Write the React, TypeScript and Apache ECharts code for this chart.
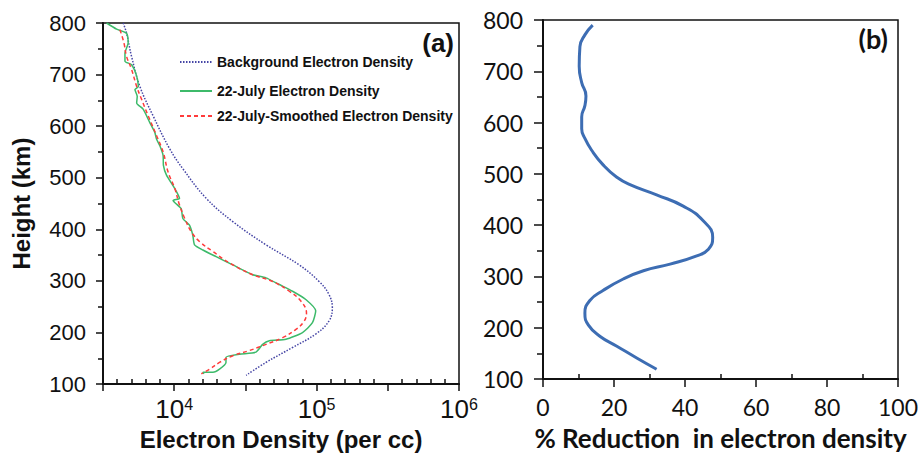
import React, { useEffect, useRef } from 'react';
import * as echarts from 'echarts';

// Panel (a): electron density profiles (per cc) vs height (km)
const bgHeights = [800, 780, 735, 677, 620, 556, 517, 460, 415, 370, 331, 299, 274, 248, 222, 197, 171, 142, 117];
const bgDensity = [4385, 4630, 5020, 5740, 7110, 9300, 11530, 16800, 25800, 44100, 75500, 104000, 122000, 129000, 122000, 98500, 67800, 44100, 32000];

const julyHeights = [800, 788, 780, 761, 742, 726, 719, 697, 677, 671, 658, 645, 633, 607, 588, 575, 562, 543, 524, 505, 479, 460, 456, 440, 421, 408, 389, 370, 360, 347, 331, 312, 306, 293, 280, 264, 242, 219, 200, 187, 184, 177, 162, 158, 152, 142, 129, 123, 123, 120];
const julyDensity = [3350, 3940, 4630, 4750, 4510, 4510, 5020, 5450, 5600, 5300, 5500, 5450, 6050, 6740, 7310, 7510, 7930, 8360, 8400, 8830, 10100, 10900, 9820, 11200, 11500, 12800, 13500, 13900, 15900, 19700, 25800, 35600, 44100, 54700, 67800, 84000, 98600, 93500, 79600, 60900, 46600, 41800, 37500, 28700, 23100, 23100, 20800, 18700, 15900, 16200];

const smoothHeights = [787, 761, 735, 710, 677, 652, 620, 582, 550, 511, 479, 447, 421, 395, 376, 357, 335, 312, 299, 280, 261, 238, 222, 206, 190, 177, 165, 155, 142, 129, 120];
const smoothDensity = [4160, 4440, 4630, 5020, 5450, 5900, 6570, 7510, 8360, 9060, 10100, 10900, 11860, 13200, 15100, 18700, 24400, 35600, 49100, 64300, 77500, 84900, 81800, 71600, 57800, 44100, 33700, 25800, 20800, 17700, 15500];

// Panel (b): % reduction vs height (km)
const redHeights = [790, 771, 748, 710, 678, 652, 633, 611, 588, 569, 546, 517, 494, 479, 459, 437, 408, 376, 353, 340, 324, 311, 295, 273, 253, 228, 205, 183, 164, 141, 119];
const reduction = [14.0, 11.8, 10.4, 10.2, 10.9, 12.1, 11.8, 10.9, 10.9, 11.8, 13.7, 17.0, 20.7, 24.5, 32.0, 39.5, 45.2, 47.8, 46.6, 43.3, 35.8, 28.3, 22.6, 17.0, 13.2, 11.8, 12.8, 16.1, 20.8, 26.4, 32.0];

const legendNames = ['Background Electron Density', '22-July Electron Density', '22-July-Smoothed Electron Density'];
const heightTicks = { min: 100, max: 800, interval: 100 };

const FA = 'Liberation Sans, Arial, sans-serif';
const FB = 'Lato, Open Sans, sans-serif';

export default function App() {
  const ref = useRef<HTMLDivElement>(null);
  useEffect(() => {
    if (!ref.current) return;
    const chart = echarts.init(ref.current, null, { renderer: 'svg' });
    const toLog = (hs: number[], ds: number[]) => hs.map((h, i) => [Math.log10(ds[i]), h]);
    const axisLine = { show: true, lineStyle: { color: '#111', width: 2 } };
    const option: any = {
      animation: false,
      grid: [
        { left: 103, top: 23, width: 356, height: 364, show: true, borderColor: '#111', borderWidth: 1.5, backgroundColor: 'transparent' },
        { left: 543, top: 20, width: 355, height: 363, show: true, borderColor: '#111', borderWidth: 1.5, backgroundColor: 'transparent' },
      ],
      xAxis: [
        {
          gridIndex: 0, type: 'value', min: 3.5, max: 6, interval: 0.5,
          name: 'Electron Density (per cc)', nameLocation: 'middle', nameGap: 42,
          nameTextStyle: { fontFamily: FA, fontSize: 24, fontWeight: 'bold', color: '#111' },
          axisLine,
          axisTick: { show: true, length: 7, lineStyle: { color: '#111', width: 1.5 } },
          minorTick: { show: true, splitNumber: 5, length: -5, lineStyle: { color: '#111', width: 1.5 } },
          splitLine: { show: false }, minorSplitLine: { show: false },
          axisLabel: {
            margin: 12, showMinLabel: true, showMaxLabel: true,
            formatter: (v: number) => (Math.abs(v - Math.round(v)) < 1e-9 ? `{b|10}{s|${Math.round(v)}}` : ''),
            rich: {
              b: { fontFamily: FA, fontSize: 26, color: '#111' },
              s: { fontFamily: FA, fontSize: 16, color: '#111', verticalAlign: 'top' },
            },
          },
        },
        {
          gridIndex: 1, type: 'value', min: 0, max: 100, interval: 20,
          name: '% Reduction  in electron density', nameLocation: 'middle', nameGap: 46,
          nameTextStyle: { fontFamily: FB, fontSize: 26, fontWeight: 'bold', color: '#111' },
          axisLine,
          axisTick: { show: true, length: 8, lineStyle: { color: '#111', width: 1.5 } },
          minorTick: { show: true, splitNumber: 2, length: -5, lineStyle: { color: '#111', width: 1.5 } },
          splitLine: { show: false },
          axisLabel: { margin: 16, fontFamily: FB, fontSize: 23, color: '#111', showMaxLabel: true },
        },
      ],
      yAxis: [
        {
          gridIndex: 0, type: 'value', ...heightTicks,
          name: 'Height (km)', nameLocation: 'middle', nameGap: 70, nameRotate: 90,
          nameTextStyle: { fontFamily: FA, fontSize: 24, fontWeight: 'bold', color: '#111' },
          axisLine,
          axisTick: { show: true, length: 7, lineStyle: { color: '#111', width: 1.5 } },
          minorTick: { show: true, splitNumber: 2, length: 5, lineStyle: { color: '#111', width: 1.5 } },
          splitLine: { show: false },
          axisLabel: { margin: 17, fontFamily: FA, fontSize: 22, color: '#111' },
        },
        {
          gridIndex: 1, type: 'value', ...heightTicks,
          axisLine,
          axisTick: { show: true, length: 9, lineStyle: { color: '#111', width: 1.5 } },
          minorTick: { show: true, splitNumber: 2, length: 6, lineStyle: { color: '#111', width: 1.5 } },
          splitLine: { show: false },
          axisLabel: { margin: 20, fontFamily: FB, fontSize: 23, color: '#111' },
        },
      ],
      legend: legendNames.map((n, i) => ({
        data: [n], left: 179, top: [55, 84, 109][i], orient: 'vertical', padding: 0,
        itemWidth: 32, itemHeight: 14, selectedMode: false,
        itemStyle: { opacity: 0 },
        textStyle: { fontFamily: FA, fontSize: 14, fontWeight: 'bold', color: '#111' },
      })),
      series: [
        {
          name: legendNames[0], type: 'line', xAxisIndex: 0, yAxisIndex: 0, symbol: 'none', showSymbol: false,
          smooth: 0.4, data: toLog(bgHeights, bgDensity),
          lineStyle: { color: '#4545a5', width: 1.5, type: [1.5, 1.5] }, itemStyle: { color: '#4545a5' },
        },
        {
          name: legendNames[1], type: 'line', xAxisIndex: 0, yAxisIndex: 0, symbol: 'none', showSymbol: false,
          smooth: 0.2, data: toLog(julyHeights, julyDensity),
          lineStyle: { color: '#3dba6a', width: 1.5 }, itemStyle: { color: '#3dba6a' },
        },
        {
          name: legendNames[2], type: 'line', xAxisIndex: 0, yAxisIndex: 0, symbol: 'none', showSymbol: false,
          smooth: 0.4, data: toLog(smoothHeights, smoothDensity),
          lineStyle: { color: '#ff3b3b', width: 1.5, type: [4, 3] }, itemStyle: { color: '#ff3b3b' },
        },
        {
          name: 'Reduction', type: 'line', xAxisIndex: 1, yAxisIndex: 1, symbol: 'none', showSymbol: false,
          smooth: 0.5, data: redHeights.map((h, i) => [reduction[i], h]),
          lineStyle: { color: '#3d6db3', width: 3 }, itemStyle: { color: '#3d6db3' },
        },
      ],
      graphic: [
        { type: 'text', right: 922 - 454, top: 30, style: { text: '(a)', fontFamily: FA, fontSize: 26, fontWeight: 'bold', fill: '#111' } },
        { type: 'text', right: 922 - 888, top: 25, style: { text: '(b)', fontFamily: FB, fontSize: 27, fontWeight: 'bold', fill: '#111' } },
      ],
    };
    chart.setOption(option);
    return () => chart.dispose();
  }, []);
  return <div ref={ref} style={{ position: 'fixed', left: 0, top: 0, width: 922, height: 456, background: '#fff' }} />;
}
